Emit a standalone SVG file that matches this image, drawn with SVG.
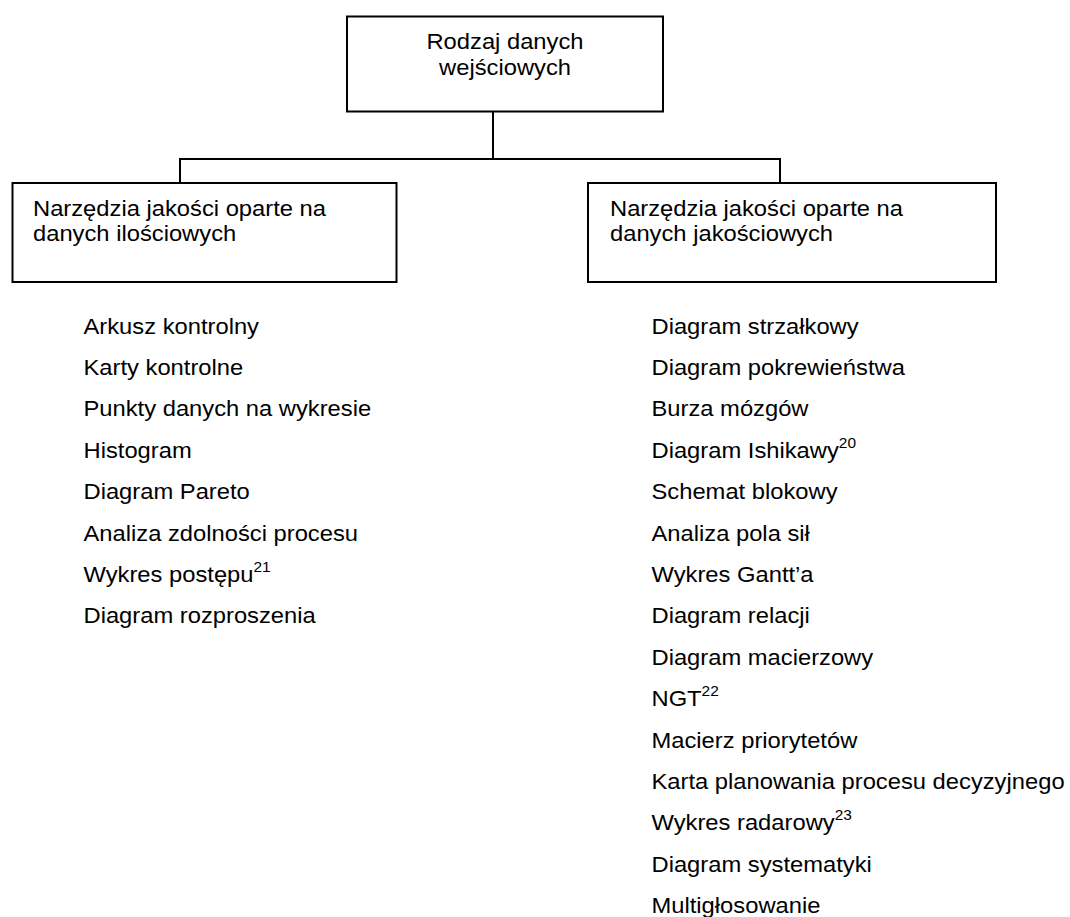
<svg xmlns="http://www.w3.org/2000/svg" width="1070" height="917" viewBox="0 0 1070 917">
  <style>
    .box { fill: #ffffff; stroke: #000000; stroke-width: 2; }
    .wire { fill: none; stroke: #000000; stroke-width: 2; }
    text { font-family: "Liberation Sans", Arial, sans-serif; font-size: 21.5px; fill: #000000; }
    .mid { text-anchor: middle; }
    .sup { font-size: 14px; }
  </style>
  <rect width="1070" height="917" fill="#ffffff"/>

  <!-- tree connectors -->
  <g id="connectors">
    <path class="wire" d="M493 111.5 V159"/>
    <path class="wire" d="M180 183 V159 H780 V183"/>
  </g>

  <!-- root -->
  <g id="node-root">
    <rect class="box" x="347" y="16.5" width="316" height="95"/>
    <text class="mid" transform="translate(505 49) scale(1.105 1)">Rodzaj danych</text>
    <text class="mid" transform="translate(505 75) scale(1.105 1)">wejściowych</text>
  </g>

  <!-- quantitative branch -->
  <g id="node-quantitative">
    <rect class="box" x="12.5" y="183" width="384" height="99"/>
    <text transform="translate(33 216) scale(1.105 1)">Narzędzia jakości oparte na</text>
    <text transform="translate(33 241) scale(1.105 1)">danych ilościowych</text>
  </g>

  <!-- qualitative branch -->
  <g id="node-qualitative">
    <rect class="box" x="588" y="183" width="408" height="99"/>
    <text transform="translate(610 216) scale(1.105 1)">Narzędzia jakości oparte na</text>
    <text transform="translate(610 241) scale(1.105 1)">danych jakościowych</text>
  </g>

  <!-- tools for quantitative data -->
  <g id="list-quantitative">
    <text transform="translate(83.5 333.5) scale(1.105 1)">Arkusz kontrolny</text>
    <text transform="translate(83.5 374.9) scale(1.105 1)">Karty kontrolne</text>
    <text transform="translate(83.5 416.3) scale(1.105 1)">Punkty danych na wykresie</text>
    <text transform="translate(83.5 457.7) scale(1.105 1)">Histogram</text>
    <text transform="translate(83.5 499.1) scale(1.105 1)">Diagram Pareto</text>
    <text transform="translate(83.5 540.5) scale(1.105 1)">Analiza zdolności procesu</text>
    <text transform="translate(83.5 581.9) scale(1.105 1)">Wykres postępu<tspan class="sup" dy="-10">21</tspan></text>
    <text transform="translate(83.5 623.3) scale(1.105 1)">Diagram rozproszenia</text>
  </g>

  <!-- tools for qualitative data -->
  <g id="list-qualitative">
    <text transform="translate(651.5 333.5) scale(1.105 1)">Diagram strzałkowy</text>
    <text transform="translate(651.5 374.9) scale(1.105 1)">Diagram pokrewieństwa</text>
    <text transform="translate(651.5 416.3) scale(1.105 1)">Burza mózgów</text>
    <text transform="translate(651.5 457.7) scale(1.105 1)">Diagram Ishikawy<tspan class="sup" dy="-10">20</tspan></text>
    <text transform="translate(651.5 499.1) scale(1.105 1)">Schemat blokowy</text>
    <text transform="translate(651.5 540.5) scale(1.105 1)">Analiza pola sił</text>
    <text transform="translate(651.5 581.9) scale(1.105 1)">Wykres Gantt’a</text>
    <text transform="translate(651.5 623.3) scale(1.105 1)">Diagram relacji</text>
    <text transform="translate(651.5 664.7) scale(1.105 1)">Diagram macierzowy</text>
    <text transform="translate(651.5 706.1) scale(1.105 1)">NGT<tspan class="sup" dy="-10">22</tspan></text>
    <text transform="translate(651.5 747.5) scale(1.105 1)">Macierz priorytetów</text>
    <text transform="translate(651.5 788.9) scale(1.105 1)">Karta planowania procesu decyzyjnego</text>
    <text transform="translate(651.5 830.3) scale(1.105 1)">Wykres radarowy<tspan class="sup" dy="-10">23</tspan></text>
    <text transform="translate(651.5 871.7) scale(1.105 1)">Diagram systematyki</text>
    <text transform="translate(651.5 913.1) scale(1.105 1)">Multigłosowanie</text>
  </g>
</svg>
